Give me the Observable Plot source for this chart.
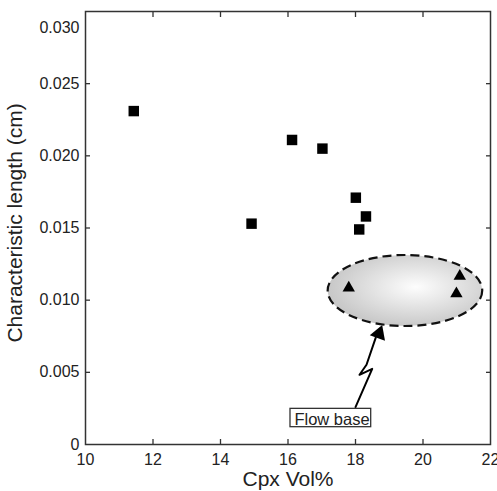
<!DOCTYPE html>
<html>
<head>
<meta charset="utf-8">
<script src="https://cdn.jsdelivr.net/npm/d3@7"></script>
<script src="https://cdn.jsdelivr.net/npm/@observablehq/plot@0.6"></script>
<style>
  html, body { margin: 0; padding: 0; background: #fff; }
</style>
</head>
<body>
<div id="chart"></div>
<script>
// Tick values
const xTicks = [10, 12, 14, 16, 18, 20, 22];
const xInnerTicks = [12, 14, 16, 18, 20];
const yTicks = [0, 0.005, 0.010, 0.015, 0.020, 0.025];
const yTopTick = [0.030];
const yInnerTicks = [0.005, 0.010, 0.015, 0.020, 0.025];

// Square series
const squareCpx = [11.43, 16.12, 17.02, 14.92, 18.01, 18.31, 18.11];
const squareLen = [0.0231, 0.0211, 0.0205, 0.0153, 0.0171, 0.0158, 0.0149];

// Triangle series (flow base)
const triCpx = [17.80, 21.09, 20.99];
const triLen = [0.01085, 0.01166, 0.01045];

// Annotation: ellipse (data units)
const ellipseCx = 19.48, ellipseCy = 0.010635, ellipseRx = 2.29, ellipseRy = 0.00246;

// Annotation: arrow path (data units)
const arrowCpx = [18.0, 18.495, 18.119, 18.326, 18.60];
const arrowLen = [0.002584, 0.005245, 0.004829, 0.005522, 0.00740];
const arrowHead = [{x: 18.696, y: 0.00768}];

// Annotation: label box
const labelText = "Flow base";
const labelBox = [{x1: 16.074, x2: 18.465, y1: 0.00120, y2: 0.00247}];
const labelPos = [{x: 16.19, y: 0.00175, t: labelText}];

const squares = squareCpx.map((x, i) => ({x, y: squareLen[i]}));
const triangles = triCpx.map((x, i) => ({x, y: triLen[i]}));
const arrowPts = arrowCpx.map((x, i) => ({x, y: arrowLen[i]}));

const fmtY = d => d === 0 ? "0" : d.toFixed(3);
const axisColor = "#333";

const ellipseMark = (index, scales) => {
  const {x, y} = scales;
  const g = d3.create("svg:g");
  const grad = g.append("defs").append("radialGradient")
    .attr("id", "fbgrad").attr("cx", 0.57).attr("cy", 0.45).attr("r", 0.56);
  grad.append("stop").attr("offset", "0%").attr("stop-color", "#fdfdfd");
  grad.append("stop").attr("offset", "100%").attr("stop-color", "#c8c8c8");
  const cx = x(ellipseCx), cy = y(ellipseCy);
  g.append("ellipse")
    .attr("cx", cx).attr("cy", cy)
    .attr("rx", x(ellipseCx + ellipseRx) - cx)
    .attr("ry", y(ellipseCy - ellipseRy) - cy)
    .attr("fill", "url(#fbgrad)")
    .attr("stroke", "#111")
    .attr("stroke-width", 2.2)
    .attr("stroke-dasharray", "9,5");
  return g.node();
};

const chart = Plot.plot({
  width: 497,
  height: 491,
  marginLeft: 85,
  marginRight: 7,
  marginTop: 11,
  marginBottom: 47,
  style: {fontFamily: "'Liberation Sans', Arial, sans-serif", fontSize: "16px", color: "#222", background: "#fff"},
  x: {domain: [10, 22]},
  y: {domain: [0, 0.030]},
  marks: [
    ellipseMark,
    // inward ticks
    Plot.axisX(xInnerTicks, {anchor: "bottom", tickSize: 5, dy: -5, fill: "none", label: null, stroke: axisColor, strokeWidth: 1.3}),
    Plot.axisX(xInnerTicks, {anchor: "top", tickSize: 5, dy: 5, fill: "none", label: null, stroke: axisColor, strokeWidth: 1.3}),
    Plot.axisY(yInnerTicks, {anchor: "left", tickSize: 5, dx: 5, fill: "none", label: null, stroke: axisColor, strokeWidth: 1.3}),
    Plot.axisY(yInnerTicks, {anchor: "right", tickSize: 5, dx: -5, fill: "none", label: null, stroke: axisColor, strokeWidth: 1.3}),
    // tick labels
    Plot.axisX(xTicks, {anchor: "bottom", tickSize: 0, tickPadding: 9, label: null, tickFormat: d => String(d), fill: "#222"}),
    Plot.axisY(yTicks, {anchor: "left", tickSize: 0, tickPadding: 6, label: null, tickFormat: fmtY, fill: "#222"}),
    Plot.axisY(yTopTick, {anchor: "left", tickSize: 0, tickPadding: 6, label: null, tickFormat: fmtY, fill: "#222", dy: 16}),
    Plot.frame({stroke: axisColor, strokeWidth: 1.5}),
    // axis titles
    Plot.text(["Cpx Vol%"], {frameAnchor: "bottom", dy: 41, lineAnchor: "bottom", textAnchor: "middle", fontSize: 21, fill: "#222"}),
    Plot.text(["Characteristic length (cm)"], {frameAnchor: "left", dx: -64, dy: -5, rotate: -90, lineAnchor: "bottom", textAnchor: "middle", fontSize: 21, fill: "#222"}),
    // arrow
    Plot.line(arrowPts, {x: "x", y: "y", stroke: "#000", strokeWidth: 2, strokeLinejoin: "round"}),
    Plot.dot(arrowHead, {x: "x", y: "y", symbol: "triangle", r: 6, rotate: 20, fill: "#000", stroke: "none"}),
    // label box
    Plot.rect(labelBox, {x1: "x1", x2: "x2", y1: "y1", y2: "y2", fill: "#fff", stroke: "#333", strokeWidth: 1.3}),
    Plot.text(labelPos, {x: "x", y: "y", text: "t", textAnchor: "start", fontSize: 16.5, fill: "#222"}),
    // data
    Plot.dot(squares, {x: "x", y: "y", symbol: "square", r: 5.9, fill: "#000", stroke: "none"}),
    Plot.dot(triangles, {x: "x", y: "y", symbol: "triangle", r: 4.6, fill: "#000", stroke: "none"})
  ]
});
document.getElementById("chart").appendChild(chart);
</script>
</body>
</html>
